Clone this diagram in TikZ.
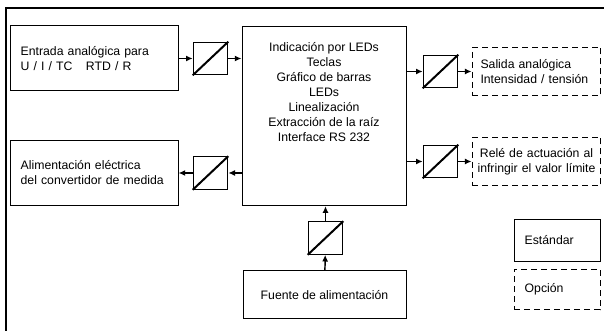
\documentclass[tikz,border=0pt]{standalone}
\usepackage{fontspec}
\setmainfont{Liberation Sans}
\usetikzlibrary{arrows.meta}
\tikzset{blk/.style={draw, rectangle, line width=0.75pt, inner ysep=0pt,
  font=\fontsize{9.2}{11.25}\selectfont}}

\begin{document}
\begin{tikzpicture}[x=0.75pt, y=-0.75pt, >={Latex[length=5pt,width=4.5pt]},
  conv/.style={draw, rectangle, line width=0.75pt, minimum width=26pt,
    minimum height=24.5pt, inner sep=0pt},
  opt/.style={blk, dashed, dash pattern=on 4.5pt off 3pt},
  sig/.style={->, line width=1.1pt}]
  \useasboundingbox (0,0) rectangle (604,331);
  % frame
  \draw[line width=0.9pt] (6,331) -- (6,8) -- (604,8);
  % main block
  \node[blk, minimum width=123pt, minimum height=134.5pt] (main) at (324,116) {};
  \node[blk, draw=none, anchor=north, align=center] (maintxt)
    at ([yshift=-12pt]main.north) {Indicación por LEDs\\Teclas\\Gráfico de barras\\
    LEDs\\Linealización\\Extracción de la raíz\\Interface RS 232};
  % left side
  \node[blk, text width=110pt, inner xsep=8pt, align=left, minimum height=48.75pt]
    (inp) at (94,58.5) {\mbox{Entrada analógica para}\\\mbox{U / I / TC\hspace{1.1em}RTD / R}};
  \node[blk, text width=110pt, inner xsep=8pt, align=left, minimum height=49pt]
    (alim) at (94,173) {\mbox{Alimentación eléctrica}\\\mbox{del convertidor de medida}};
  \node[conv] (c1) at (210.5,58.5) {};
  \node[conv] (c2) at (210.5,173) {};
  % right side
  \node[conv] (c3) at (440.5,71.5) {};
  \node[conv] (c4) at (440.5,161.5) {};
  \node[opt, text width=84pt, inner xsep=6.3pt, align=left, minimum height=36pt]
    (out1) at (536.5,71.5) {\mbox{Salida analógica}\\\mbox{Intensidad / tensión}};
  \node[opt, text width=92pt, inner xsep=2.3pt, align=center, minimum height=36pt]
    (out2) at (536.5,161.5) {\mbox{Relé de actuación al}\\\mbox{infringir el valor límite}};
  % bottom
  \node[conv] (c5) at (325.5,238) {};
  \node[blk, minimum width=122.25pt, minimum height=36pt] (fuente) at (324.5,295)
    {Fuente de alimentación};
  % legend
  \node[blk, text width=48.5pt, inner xsep=8pt, align=left, minimum height=32pt]
    (std) at (557,240.5) {Estándar};
  \node[opt, text width=48.5pt, inner xsep=8pt, align=left, minimum height=30.5pt]
    (optn) at (557,289.5) {Opción};
  % converter diagonals
  \foreach \c in {c1,c2,c3,c4,c5}
    \draw[line width=1.5pt] (\c.south west) -- (\c.north east);
  % signal paths
  \draw[sig] (inp) -- (c1);
  \draw[sig] (c1) -- (main.west |- c1);
  \draw[sig] (main.west |- c2) -- (c2);
  \draw[sig] (c2) -- (alim);
  \draw[sig] (main.east |- c3) -- (c3);
  \draw[sig] (c3) -- (out1);
  \draw[sig] (main.east |- c4) -- (c4);
  \draw[sig] (c4) -- (out1.west |- c4);
  \draw[sig] (fuente) -- (c5);
  \draw[sig] (c5) -- (main.south -| c5);
\end{tikzpicture}
\end{document}
